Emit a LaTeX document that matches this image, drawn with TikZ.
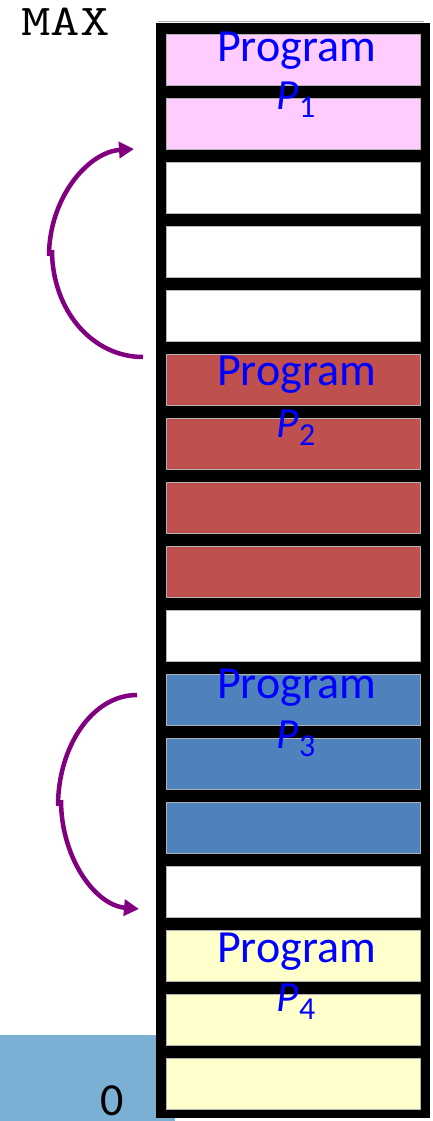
\documentclass[tikz,border=0pt]{standalone}
\usepackage{fontspec}
\usepackage{graphicx}
\setmainfont{Carlito}
\usetikzlibrary{arrows.meta}

\definecolor{cellpink}{RGB}{255,204,255}
\definecolor{cellred}{RGB}{192,80,77}
\definecolor{cellblue}{RGB}{79,129,189}
\definecolor{cellyellow}{RGB}{255,255,204}
\definecolor{zoneblue}{RGB}{123,175,212}
\definecolor{swaparc}{RGB}{128,0,128}

\tikzset{
  cell/.style={draw=gray!60, line width=0.6pt, minimum width=254pt,
               minimum height=51pt, inner sep=0pt},
  progtext/.style={anchor=base, inner sep=0pt, text=blue,
               font=\fontsize{46}{46}\selectfont},
  pname/.style={anchor=base, inner sep=0pt, text=blue},
  swap/.style={draw=swaparc, line width=4.5pt,
               -{Triangle[length=15pt,width=16pt]}},
  swaptail/.style={draw=swaparc, line width=4.5pt},
}

\newcommand{\procname}[1]{{\fontsize{43}{43}\selectfont\itshape P}%
  {\fontsize{32}{32}\selectfont\raisebox{-8pt}{#1}}}

\begin{document}
\begin{tikzpicture}[x=1pt,y=-1pt]
\useasboundingbox (0,0) rectangle (432,1121);

% address zone behind the bottom of memory
\fill[zoneblue] (0,1035) rectangle (175,1121);

% memory column frame
\draw[gray!70, line width=0.8pt] (158,21) -- (424,21);
\fill[black] (156,23) rectangle (430,1118);

% memory cells, top (MAX) to bottom (0)
\foreach \i/\c in {0/cellpink,1/cellpink,2/white,3/white,4/white,
                   5/cellred,6/cellred,7/cellred,8/cellred,9/white,
                   10/cellblue,11/cellblue,12/cellblue,13/white,
                   14/cellyellow,15/cellyellow,16/cellyellow}
  \node[cell, fill=\c] (c\i) at (293,{59.5+64*\i}) {};

% address labels
\node[anchor=base west, inner sep=0pt, font=\ttfamily\fontsize{44}{44}\selectfont]
  (maxlbl) at (21,36) {\scalebox{1.3}[1]{MAX}};
\node[anchor=base, inner sep=0pt, font=\fontsize{46}{46}\selectfont]
  (zerolbl) at (112,1115) {0};

% program labels
\node[progtext] (prog1) at (296.5,62) {Program};
\node[pname] (name1) at (296,110) {\procname{1}};
\node[progtext] (prog2) at (296.5,385) {Program};
\node[pname] (name2) at (296,437) {\procname{2}};
\node[progtext] (prog3) at (296.5,698) {Program};
\node[pname] (name3) at (296,748) {\procname{3}};
\node[progtext] (prog4) at (296.5,962) {Program};
\node[pname] (name4) at (296,1011) {\procname{4}};

% relocation arcs, each drawn as two halves meeting at a slight kink
\coordinate (a1s) at (143,357);
\coordinate (a1m) at (52,250);
\coordinate (a1n) at (49,256);
\coordinate (a1e) at (134,149);
\draw[swaptail] (a1s) .. controls (92,357) and (52,310) .. (a1m);
\draw[swap] (a1n) .. controls (49,198) and (88,152) .. (a1e);

\coordinate (a2s) at (137,695);
\coordinate (a2m) at (58,806);
\coordinate (a2n) at (61,800);
\coordinate (a2e) at (139,909);
\draw[swaptail] (a2s) .. controls (92,695) and (58,747) .. (a2m);
\draw[swap] (a2n) .. controls (61,858) and (95,905) .. (a2e);
\end{tikzpicture}
\end{document}
